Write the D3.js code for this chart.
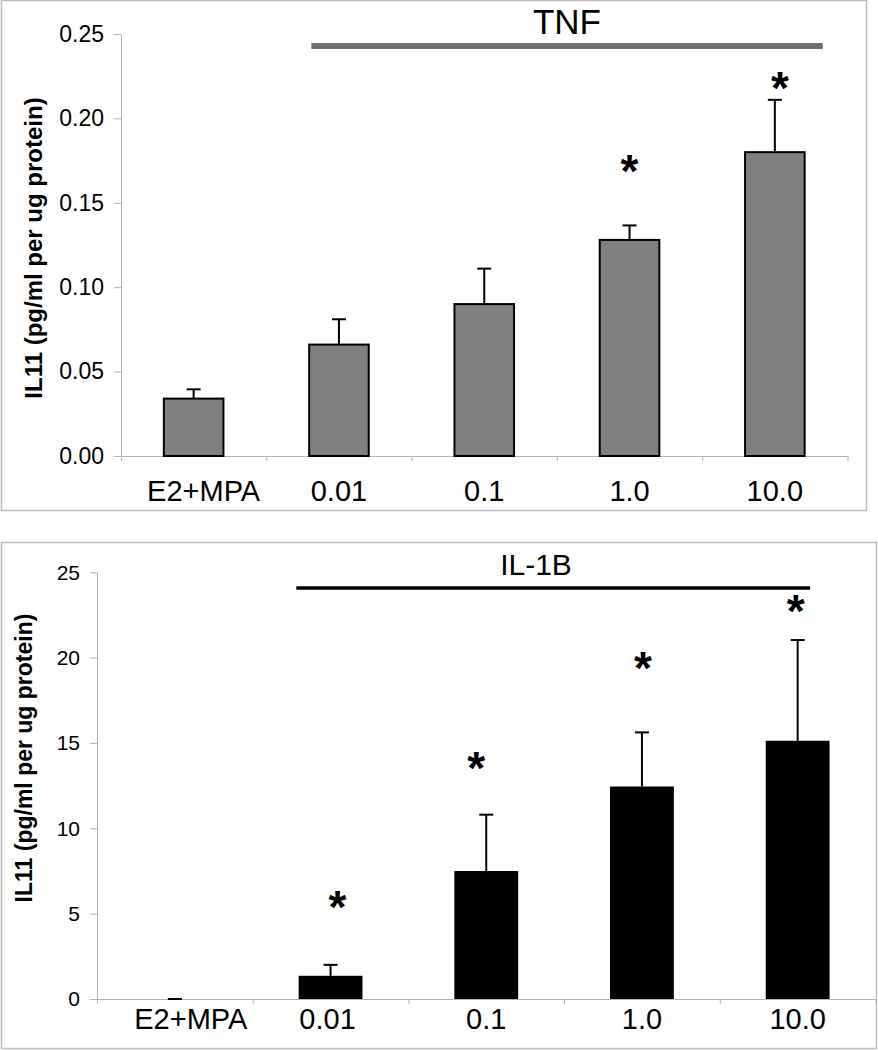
<!DOCTYPE html>
<html>
<head>
<meta charset="utf-8">
<script src="https://cdn.jsdelivr.net/npm/d3@7"></script>
<style>
  html, body { margin: 0; padding: 0; background: #fff; }
  svg { display: block; font-family: "Liberation Sans", Arial, sans-serif; }
</style>
</head>
<body>
<svg id="chart" width="878" height="1050"></svg>
<script>
// ---- data ----
const categories = ["E2+MPA", "0.01", "0.1", "1.0", "10.0"];

const tnfValues = [0.034, 0.066, 0.090, 0.128, 0.180];
const tnfErrors = [0.0055, 0.015, 0.021, 0.0086, 0.031];
const tnfSig = [false, false, false, true, true];
const tnfStarLevel = [null, null, null, 0.175, 0.224];
const tnfTicks = [0, 0.05, 0.10, 0.15, 0.20, 0.25];

const il1bValues = [0, 1.36, 7.5, 12.45, 15.13];
const il1bErrors = [0, 0.64, 3.3, 3.17, 5.9];
const il1bSig = [false, true, true, true, true];
const il1bStarLevel = [null, 5.98, 14.1, 20.0, 23.3];
const il1bTicks = [0, 5, 10, 15, 20, 25];

const yTitle = "IL11 (pg/ml per ug protein)";

const svg = d3.select("#chart");

function panel(opts) {
  const g = svg.append("g");
  // border
  g.append("rect")
    .attr("x", opts.box[0] + 0.5).attr("y", opts.box[1] + 0.5)
    .attr("width", opts.box[2]).attr("height", opts.box[3])
    .attr("fill", "#fff").attr("stroke", "#bdbdbd").attr("stroke-width", 1.5);

  const x = d3.scaleBand().domain(categories).range([opts.x0, opts.x1]).paddingInner(0).paddingOuter(0);
  const y = d3.scaleLinear().domain([0, opts.ticks[opts.ticks.length - 1]]).range([opts.y0, opts.y1]);
  const bw = x.bandwidth() * 0.41;

  // y axis
  const yAxis = d3.axisLeft(y).tickValues(opts.ticks).tickFormat(opts.fmt).tickSizeInner(7).tickSizeOuter(0).tickPadding(10);
  const ya = g.append("g").attr("transform", `translate(${opts.x0},0)`).call(yAxis);
  ya.selectAll("path, line").attr("stroke", "#b3b3b3").attr("stroke-width", 1);
  ya.selectAll("text").attr("font-size", opts.tickFont).attr("fill", "#000")
    .attr("font-family", "'Liberation Sans', Arial, sans-serif");

  // x axis line + ticks at band boundaries
  g.append("line").attr("x1", opts.x0).attr("x2", opts.x1).attr("y1", opts.y0 + 0.5).attr("y2", opts.y0 + 0.5)
    .attr("stroke", "#b3b3b3");
  const bounds = categories.map(c => x(c)).concat([opts.x1]);
  g.selectAll(".xt").data(bounds).join("line")
    .attr("x1", d => d + 0.5).attr("x2", d => d + 0.5)
    .attr("y1", opts.y0).attr("y2", opts.y0 + 5).attr("stroke", "#b3b3b3");
  g.selectAll(".xl").data(categories).join("text")
    .attr("x", (d, i) => x(d) + x.bandwidth() / 2 + opts.labelDx[i])
    .attr("y", opts.xLabelY)
    .attr("text-anchor", "middle").attr("font-size", opts.xFont).text(d => d);

  // bars
  g.selectAll(".bar").data(categories).join("rect")
    .attr("x", d => x(d) + x.bandwidth() / 2 - bw / 2)
    .attr("y", (d, i) => y(opts.values[i]))
    .attr("width", bw)
    .attr("height", (d, i) => opts.y0 - y(opts.values[i]))
    .attr("fill", opts.fill)
    .attr("stroke", "#000").attr("stroke-width", opts.barStroke);

  // error bars (upper only)
  categories.forEach((c, i) => {
    const cx = x(c) + x.bandwidth() / 2;
    const top = y(opts.values[i] + opts.errors[i]);
    g.append("line").attr("x1", cx).attr("x2", cx).attr("y1", y(opts.values[i])).attr("y2", top)
      .attr("stroke", "#000").attr("stroke-width", 2);
    g.append("line").attr("x1", cx - 7).attr("x2", cx + 7).attr("y1", top).attr("y2", top)
      .attr("stroke", "#000").attr("stroke-width", 2);
  });

  // significance stars
  categories.forEach((c, i) => {
    if (!opts.sig[i]) return;
    const cx = x(c) + x.bandwidth() / 2 + opts.starDx[i];
    g.append("text").attr("x", cx).attr("y", y(opts.stars[i]) + 26)
      .attr("text-anchor", "middle").attr("font-size", 46).attr("font-weight", "bold").text("*");
  });

  // treatment line and label
  const lx1 = x(categories[1]) + x.bandwidth() * opts.lineFrac[0];
  const lx2 = x(categories[4]) + x.bandwidth() * opts.lineFrac[1];
  g.append("line").attr("x1", lx1).attr("x2", lx2).attr("y1", opts.lineY).attr("y2", opts.lineY)
    .attr("stroke", opts.lineColor).attr("stroke-width", opts.lineW);
  g.append("text").attr("x", opts.labelX).attr("y", opts.labelY).attr("text-anchor", "middle")
    .attr("font-size", opts.labelFont).text(opts.label);

  // y title
  g.append("text")
    .attr("transform", `translate(${opts.titleX},${opts.titleY}) rotate(-90)`)
    .attr("text-anchor", "middle").attr("font-weight", "bold").attr("font-size", opts.titleFont)
    .text(yTitle);
}

panel({
  box: [1, 0, 865, 510],
  x0: 121, x1: 847.5, y0: 456, y1: 34,
  ticks: tnfTicks, fmt: d3.format(".2f"), tickFont: 23,
  values: tnfValues, errors: tnfErrors, sig: tnfSig, stars: tnfStarLevel,
  starDx: [0, 0, 0, 0, 5],
  fill: "#808080", barStroke: 2,
  xLabelY: 501, xFont: 29, labelDx: [10, 0, 0, 0, 0],
  lineFrac: [0.31, 0.83], lineY: 46, lineColor: "#6e6e6e", lineW: 6,
  label: "TNF", labelX: 567, labelY: 34, labelFont: 35,
  titleX: 42, titleY: 248, titleFont: 24
});

panel({
  box: [1, 542, 875, 506],
  x0: 97, x1: 875.5, y0: 999, y1: 572.3,
  ticks: il1bTicks, fmt: d3.format("d"), tickFont: 21,
  values: il1bValues, errors: il1bErrors, sig: il1bSig, stars: il1bStarLevel,
  starDx: [0, 7, -10, 1, -2],
  fill: "#000", barStroke: 0,
  xLabelY: 1029, xFont: 29, labelDx: [16, -3, 0, 0, 0],
  lineFrac: [0.28, 0.58], lineY: 588, lineColor: "#000", lineW: 3.5,
  label: "IL-1B", labelX: 536, labelY: 575, labelFont: 30,
  titleX: 32, titleY: 758, titleFont: 23
});
</script>
</body>
</html>
